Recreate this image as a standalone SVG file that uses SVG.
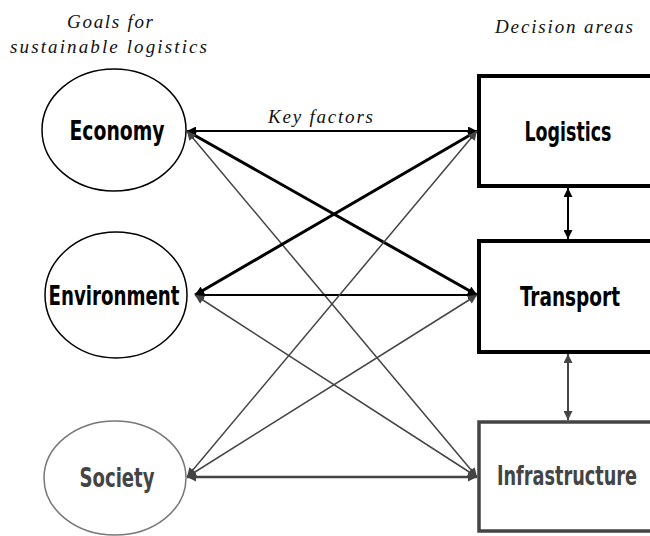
<svg xmlns="http://www.w3.org/2000/svg" width="650" height="536" viewBox="0 0 650 536">
<style>
.hdr{font-family:"Liberation Serif",serif;font-style:italic;font-size:19px;fill:#111}
.lbl{font-family:"Liberation Sans Narrow","DejaVu Sans Condensed","Liberation Sans",sans-serif;font-weight:bold;font-size:27px;text-anchor:middle;dominant-baseline:central}
.blk{stroke:#000;fill:none}
.gry{stroke:#444;fill:none}
</style>
<defs>
<marker id="ab" viewBox="0 0 10 10" refX="10" refY="5" markerWidth="10" markerHeight="9" markerUnits="userSpaceOnUse" orient="auto-start-reverse"><path d="M0,0 L10,5 L0,10 z" fill="#000"/></marker>
<marker id="ag" viewBox="0 0 10 10" refX="10" refY="5" markerWidth="10" markerHeight="9" markerUnits="userSpaceOnUse" orient="auto-start-reverse"><path d="M0,0 L10,5 L0,10 z" fill="#444"/></marker>
</defs>
<rect width="650" height="536" fill="#fff"/>
<text class="hdr" x="67" y="28" textLength="86" lengthAdjust="spacing">Goals for</text>
<text class="hdr" x="10" y="53" textLength="197" lengthAdjust="spacing">sustainable logistics</text>
<text class="hdr" x="495" y="33" textLength="138" lengthAdjust="spacing">Decision areas</text>
<text class="hdr" x="268" y="123" textLength="105" lengthAdjust="spacing">Key factors</text>
<g id="connectors">
<line class="blk" stroke-width="2" x1="187" y1="131" x2="477" y2="131" marker-start="url(#ab)" marker-end="url(#ab)"/>
<line class="blk" stroke-width="3" x1="187" y1="131" x2="477" y2="295" marker-start="url(#ab)" marker-end="url(#ab)"/>
<line class="gry" stroke-width="1.5" x1="187" y1="131" x2="477" y2="477" marker-start="url(#ag)" marker-end="url(#ag)"/>
<line class="blk" stroke-width="3" x1="195" y1="295" x2="477" y2="131" marker-start="url(#ab)" marker-end="url(#ab)"/>
<line class="blk" stroke-width="1.8" x1="195" y1="295" x2="477" y2="295" marker-start="url(#ab)" marker-end="url(#ab)"/>
<line class="gry" stroke-width="1.5" x1="195" y1="295" x2="477" y2="477" marker-start="url(#ag)" marker-end="url(#ag)"/>
<line class="gry" stroke-width="1.5" x1="187" y1="477" x2="477" y2="131" marker-start="url(#ag)" marker-end="url(#ag)"/>
<line class="gry" stroke-width="1.5" x1="187" y1="477" x2="477" y2="295" marker-start="url(#ag)" marker-end="url(#ag)"/>
<line class="gry" stroke-width="2.5" x1="187" y1="477" x2="477" y2="477" marker-start="url(#ag)" marker-end="url(#ag)"/>
<line class="blk" stroke-width="2" x1="568" y1="188" x2="568" y2="239" marker-start="url(#ab)" marker-end="url(#ab)"/>
<line class="gry" stroke-width="2" x1="568" y1="354" x2="568" y2="420" marker-start="url(#ag)" marker-end="url(#ag)"/>
</g>
<g id="economy">
<ellipse cx="114" cy="130" rx="72" ry="61" fill="#fff" stroke="#000" stroke-width="1.5"/>
<text class="lbl" x="117" y="130" fill="#000" textLength="95" lengthAdjust="spacingAndGlyphs">Economy</text>
</g>
<g id="environment">
<ellipse cx="116" cy="295" rx="71" ry="63" fill="#fff" stroke="#000" stroke-width="1.5"/>
<text class="lbl" x="114" y="295" fill="#000" textLength="131" lengthAdjust="spacingAndGlyphs">Environment</text>
</g>
<g id="society">
<ellipse cx="115" cy="478" rx="71" ry="57" fill="#fff" stroke="#777" stroke-width="1.5"/>
<text class="lbl" x="117" y="477" fill="#444" textLength="75" lengthAdjust="spacingAndGlyphs">Society</text>
</g>
<g id="logistics">
<rect x="479" y="76" width="190" height="110" fill="#fff" stroke="#000" stroke-width="4"/>
<text class="lbl" x="568" y="131" fill="#000" textLength="87" lengthAdjust="spacingAndGlyphs">Logistics</text>
</g>
<g id="transport">
<rect x="479" y="241" width="190" height="111" fill="#fff" stroke="#000" stroke-width="4"/>
<text class="lbl" x="570" y="296" fill="#000" textLength="100" lengthAdjust="spacingAndGlyphs">Transport</text>
</g>
<g id="infrastructure">
<rect x="479" y="422" width="190" height="109" fill="#fff" stroke="#444" stroke-width="3.5"/>
<text class="lbl" transform="translate(567,476) scale(0.75,1)" x="0" y="0" fill="#444" textLength="187" lengthAdjust="spacingAndGlyphs">Infrastructure</text>
</g>
</svg>
